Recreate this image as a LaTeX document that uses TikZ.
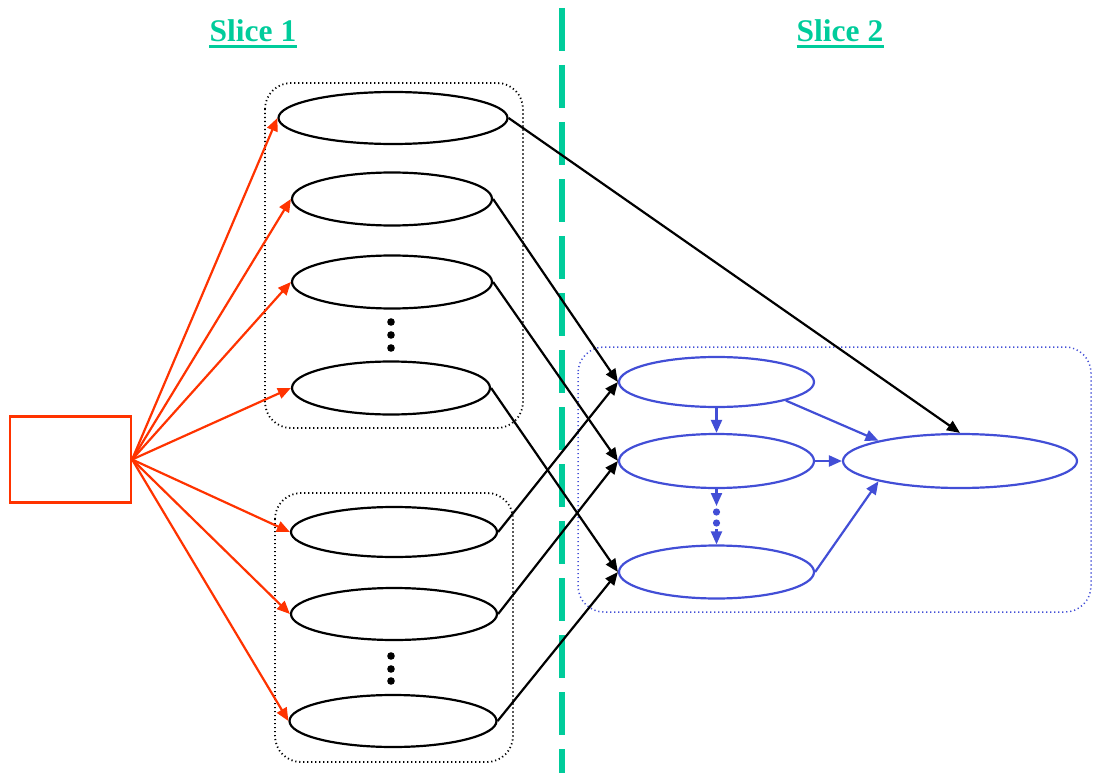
\documentclass[tikz,border=0pt]{standalone}
\usepackage{fontspec}
\setmainfont{Liberation Serif}
\usetikzlibrary{shapes.geometric,arrows.meta}
\definecolor{slicecol}{RGB}{0,204,155}
\definecolor{redcol}{RGB}{255,51,0}
\definecolor{bluecol}{RGB}{66,78,214}
\begin{document}
\begin{tikzpicture}[x=1pt,y=-1pt,
  ell/.style={draw,ellipse,line width=2.2pt,inner sep=0pt},
  bell/.style={ell,draw=bluecol},
  tip/.style={-{Triangle[length=13pt,width=11pt]},line width=2.2pt},
  grp/.style={line width=1.8pt,dash pattern=on 1.2pt off 2.8pt,rounded corners=26pt},
  title/.style={font=\fontsize{31.5}{36}\selectfont\bfseries,text=slicecol,inner sep=0pt,anchor=base}]
\useasboundingbox (0,0) rectangle (1095,773);

\node[title] (s1) at (253,42) {Slice 1};
\node[title] (s2) at (840,42) {Slice 2};
\draw[slicecol,line width=3pt] ([yshift=-4.5pt]s1.base west) -- ([yshift=-4.5pt]s1.base east);
\draw[slicecol,line width=3pt] ([yshift=-4.5pt]s2.base west) -- ([yshift=-4.5pt]s2.base east);
\draw[slicecol,line width=6pt,dash pattern=on 43pt off 14pt] (562,8) -- (562,773);

\draw[grp] (265,83) rectangle (523,428);
\draw[grp] (275,493) rectangle (513,762);
\draw[grp,bluecol,line width=1.5pt] (578,347) rectangle (1091,612);

\node[draw=redcol,line width=2.2pt,minimum width=121pt,minimum height=86pt,inner sep=0pt] (src) at (70.5,459.5) {};

\node[ell,minimum width=229pt,minimum height=52pt] (e1) at (393,118) {};
\node[ell,minimum width=200pt,minimum height=53pt] (e2) at (392,199) {};
\node[ell,minimum width=200pt,minimum height=53pt] (e3) at (392,282) {};
\node[ell,minimum width=198pt,minimum height=53pt] (e4) at (391,388) {};
\node[ell,minimum width=206pt,minimum height=50pt] (e5) at (394,532) {};
\node[ell,minimum width=206pt,minimum height=52pt] (e6) at (394,614) {};
\node[ell,minimum width=207pt,minimum height=52pt] (e7) at (393,721) {};

\node[bell,minimum width=195pt,minimum height=50pt] (b1) at (716.5,382) {};
\node[bell,minimum width=195pt,minimum height=54pt] (b2) at (716.5,461) {};
\node[bell,minimum width=195pt,minimum height=53pt] (b3) at (716.5,572) {};
\node[bell,minimum width=234pt,minimum height=54pt] (b4) at (960,461) {};

\fill (391,322) circle (3.8pt) (391,335) circle (3.8pt) (391,348) circle (3.8pt);
\fill (391,656) circle (3.8pt) (391,669) circle (3.8pt) (391,681) circle (3.8pt);
\fill[bluecol] (716.5,512) circle (3.6pt) (716.5,523) circle (3.6pt);
\coordinate (d1) at (716.5,506);
\coordinate (d2) at (716.5,529);

\draw[tip,redcol] (src.east) -- (e1.west);
\draw[tip,redcol] (src.east) -- (e2.west);
\draw[tip,redcol] (src.east) -- (e3.west);
\draw[tip,redcol] (src.east) -- (e4.west);
\draw[tip,redcol] (src.east) -- (e5.west);
\draw[tip,redcol] (src.east) -- (e6.west);
\draw[tip,redcol] (src.east) -- (e7.west);

\draw[tip] (e1.east) -- (b4.north);
\draw[tip] (e2.east) -- (b1.west);
\draw[tip] (e3.east) -- (b2.west);
\draw[tip] (e4.east) -- (b3.west);
\draw[tip] (e5.east) -- (b1.west);
\draw[tip] (e6.east) -- (b2.west);
\draw[tip] (e7.east) -- (b3.west);

\draw[tip,bluecol] (b1.south) -- (b2.north);
\draw[tip,bluecol] (b1.-15) -- (b4.166);
\draw[tip,bluecol] (b2.east) -- (b4.west);
\draw[tip,bluecol] (b3.east) -- (b4.194);
\draw[tip,bluecol] (b2.south) -- (d1);
\draw[tip,bluecol] (d2) -- (b3.north);
\end{tikzpicture}
\end{document}
